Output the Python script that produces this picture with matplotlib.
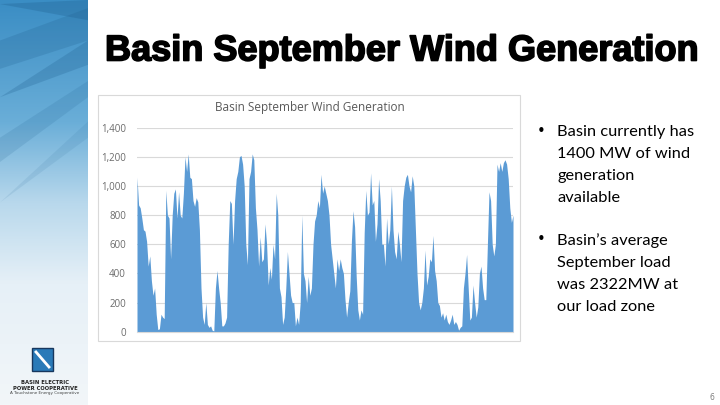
import numpy as np
import matplotlib.pyplot as plt
import matplotlib.patheffects as pe
from matplotlib.patches import Rectangle, Polygon
from matplotlib.colors import LinearSegmentedColormap

# Hourly wind generation (MW), left to right
gen = [1060, 870, 850, 780, 700, 690, 620, 450, 520, 350, 250, 300, 120, 15, 20, 120,
       100, 90, 970, 800, 780, 500, 800, 950, 980, 780, 960, 800, 780, 950, 1200, 1100,
       1220, 1060, 1050, 900, 860, 920, 890, 700, 300, 100, 50, 200, 50, 30, 40, 10,
       5, 300, 420, 300, 200, 40, 40, 60, 100, 600, 900, 880, 600, 900, 1050, 1100,
       1200, 1210, 1150, 1000, 600, 460, 1050, 1100, 1220, 1180, 850, 700, 450, 650, 480, 500,
       740, 600, 320, 440, 360, 600, 500, 950, 800, 300, 240, 50, 100, 300, 550, 400,
       250, 200, 200, 40, 100, 50, 200, 800, 400, 350, 200, 380, 250, 300, 600, 760,
       800, 900, 850, 1080, 950, 1000, 950, 900, 800, 600, 500, 400, 300, 500, 420, 500,
       440, 400, 220, 100, 200, 280, 620, 830, 720, 380, 150, 80, 150, 120, 680, 970,
       800, 820, 1090, 870, 900, 620, 740, 1050, 900, 600, 600, 450, 780, 600, 700, 1000,
       700, 550, 500, 690, 600, 480, 900, 1000, 1060, 1080, 1000, 960, 1070, 1000, 700, 400,
       200, 150, 200, 300, 560, 320, 380, 500, 480, 660, 420, 350, 200, 180, 100, 130,
       80, 120, 70, 50, 80, 120, 50, 70, 50, 10, 30, 40, 300, 400, 530, 300,
       80, 100, 320, 200, 100, 170, 400, 450, 300, 220, 220, 600, 960, 900, 600, 520,
       600, 1150, 1100, 1160, 1100, 1160, 1180, 1150, 1050, 850, 750, 800]

yticks = [0, 200, 400, 600, 800, 1000, 1200, 1400]
ytick_labels = ["0", "200", "400", "600", "800", "1,000", "1,200", "1,400"]

bullets = ["Basin currently has\n1400 MW of wind\ngeneration\navailable",
           "Basin\u2019s average\nSeptember load\nwas 2322MW at\nour load zone"]

W, H = 720, 405
fig = plt.figure(figsize=(7.2, 4.05), dpi=100)
fig.patch.set_facecolor("white")

# left decorative strip: blue at the top fading to near white
strip = fig.add_axes([0, 0, 88 / W, 1])
strip_cmap = LinearSegmentedColormap.from_list(
    "strip", [(0, "#3a8dc4"), (0.3, "#6aaed8"), (0.5, "#b8d8ec"),
              (0.7, "#e6f0f7"), (1, "#f2f6f9")])
grad = np.linspace(0, 1, 256).reshape(-1, 1)
strip.imshow(grad, aspect="auto", cmap=strip_cmap, extent=[0, 1, 0, 1], origin="upper")
for pts, a in [([(0, 0.99), (1, 1.0), (1, 0.95)], 0.30),
               ([(0, 0.90), (1, 0.98), (1, 0.90), (0, 0.83)], 0.22),
               ([(0, 0.76), (1, 0.90), (1, 0.84)], 0.25),
               ([(0, 0.66), (1, 0.80), (1, 0.76), (0, 0.60)], 0.15),
               ([(0, 0.50), (1, 0.70), (1, 0.66)], 0.10)]:
    strip.add_patch(Polygon(pts, closed=True, facecolor="#1f5f8f", alpha=a, lw=0))
strip.set_xlim(0, 1)
strip.set_ylim(0, 1)
strip.axis("off")

# slide title
fig.text(105 / W, 1 - 51 / H, "Basin September Wind Generation", fontsize=26,
         fontweight="bold", family="Liberation Sans", va="center", ha="left",
         color="black",
         path_effects=[pe.withStroke(linewidth=1.2, foreground="black")])

# chart frame
fig.patches.append(Rectangle((98 / W, 1 - 341 / H), 422 / W, 246 / H,
                             transform=fig.transFigure, fill=False,
                             edgecolor="#d9d9d9", lw=0.8))
fig.text(310 / W, 1 - 108 / H, "Basin September Wind Generation", fontsize=8.5,
         color="#595959", ha="center", va="center", family="Open Sans")

ax = fig.add_axes([137 / W, 1 - 331.7 / H, 376 / W, 204 / H])
x = np.arange(len(gen))
ax.fill_between(x, gen, 0, color="#5b9bd5", lw=0)
ax.set_xlim(0, len(gen) - 1)
ax.set_ylim(0, 1400)
ax.set_yticks(yticks)
ax.set_yticklabels(ytick_labels, fontsize=7, color="#6b6b6b", family="Open Sans")
ax.set_xticks([])
ax.tick_params(axis="y", length=0, pad=8)
ax.grid(axis="y", color="#d9d9d9", lw=0.8)
ax.set_axisbelow(True)
for s in ["top", "right", "left"]:
    ax.spines[s].set_visible(False)
ax.spines["bottom"].set_color("#d9d9d9")

# bullet text
for y0, txt in zip([131, 239], bullets):
    fig.text(537 / W, 1 - y0 / H, "\u2022", fontsize=10.5, color="black",
             va="center", ha="left", family="DejaVu Sans")
    fig.text(557 / W, 1 - (y0 - 6) / H, txt, fontsize=11.8, color="black",
             va="top", ha="left", family="Lato", linespacing=1.72)

# logo
fig.patches.append(Rectangle((32 / W, 1 - 371 / H), 21 / W, 23 / H,
                             transform=fig.transFigure, facecolor="#2a7ab8",
                             edgecolor="#17375e", lw=1.0))
fig.lines.append(plt.Line2D([36 / W, 49 / W], [1 - 352 / H, 1 - 367 / H],
                            transform=fig.transFigure, color="white", lw=2))
fig.text(45 / W, 1 - 383 / H, "BASIN ELECTRIC", fontsize=3.8, ha="center",
         va="center", fontweight="bold", color="#222222")
fig.text(45 / W, 1 - 388 / H, "POWER COOPERATIVE", fontsize=3.8, ha="center",
         va="center", fontweight="bold", color="#222222")
fig.text(45 / W, 1 - 393 / H, "A Touchstone Energy Cooperative", fontsize=3.0,
         ha="center", va="center", color="#444444")

fig.text(712 / W, 1 - 397 / H, "6", fontsize=5.5, color="#7f7f7f", ha="center",
         va="center")

fig.savefig("out.png", dpi=100)
